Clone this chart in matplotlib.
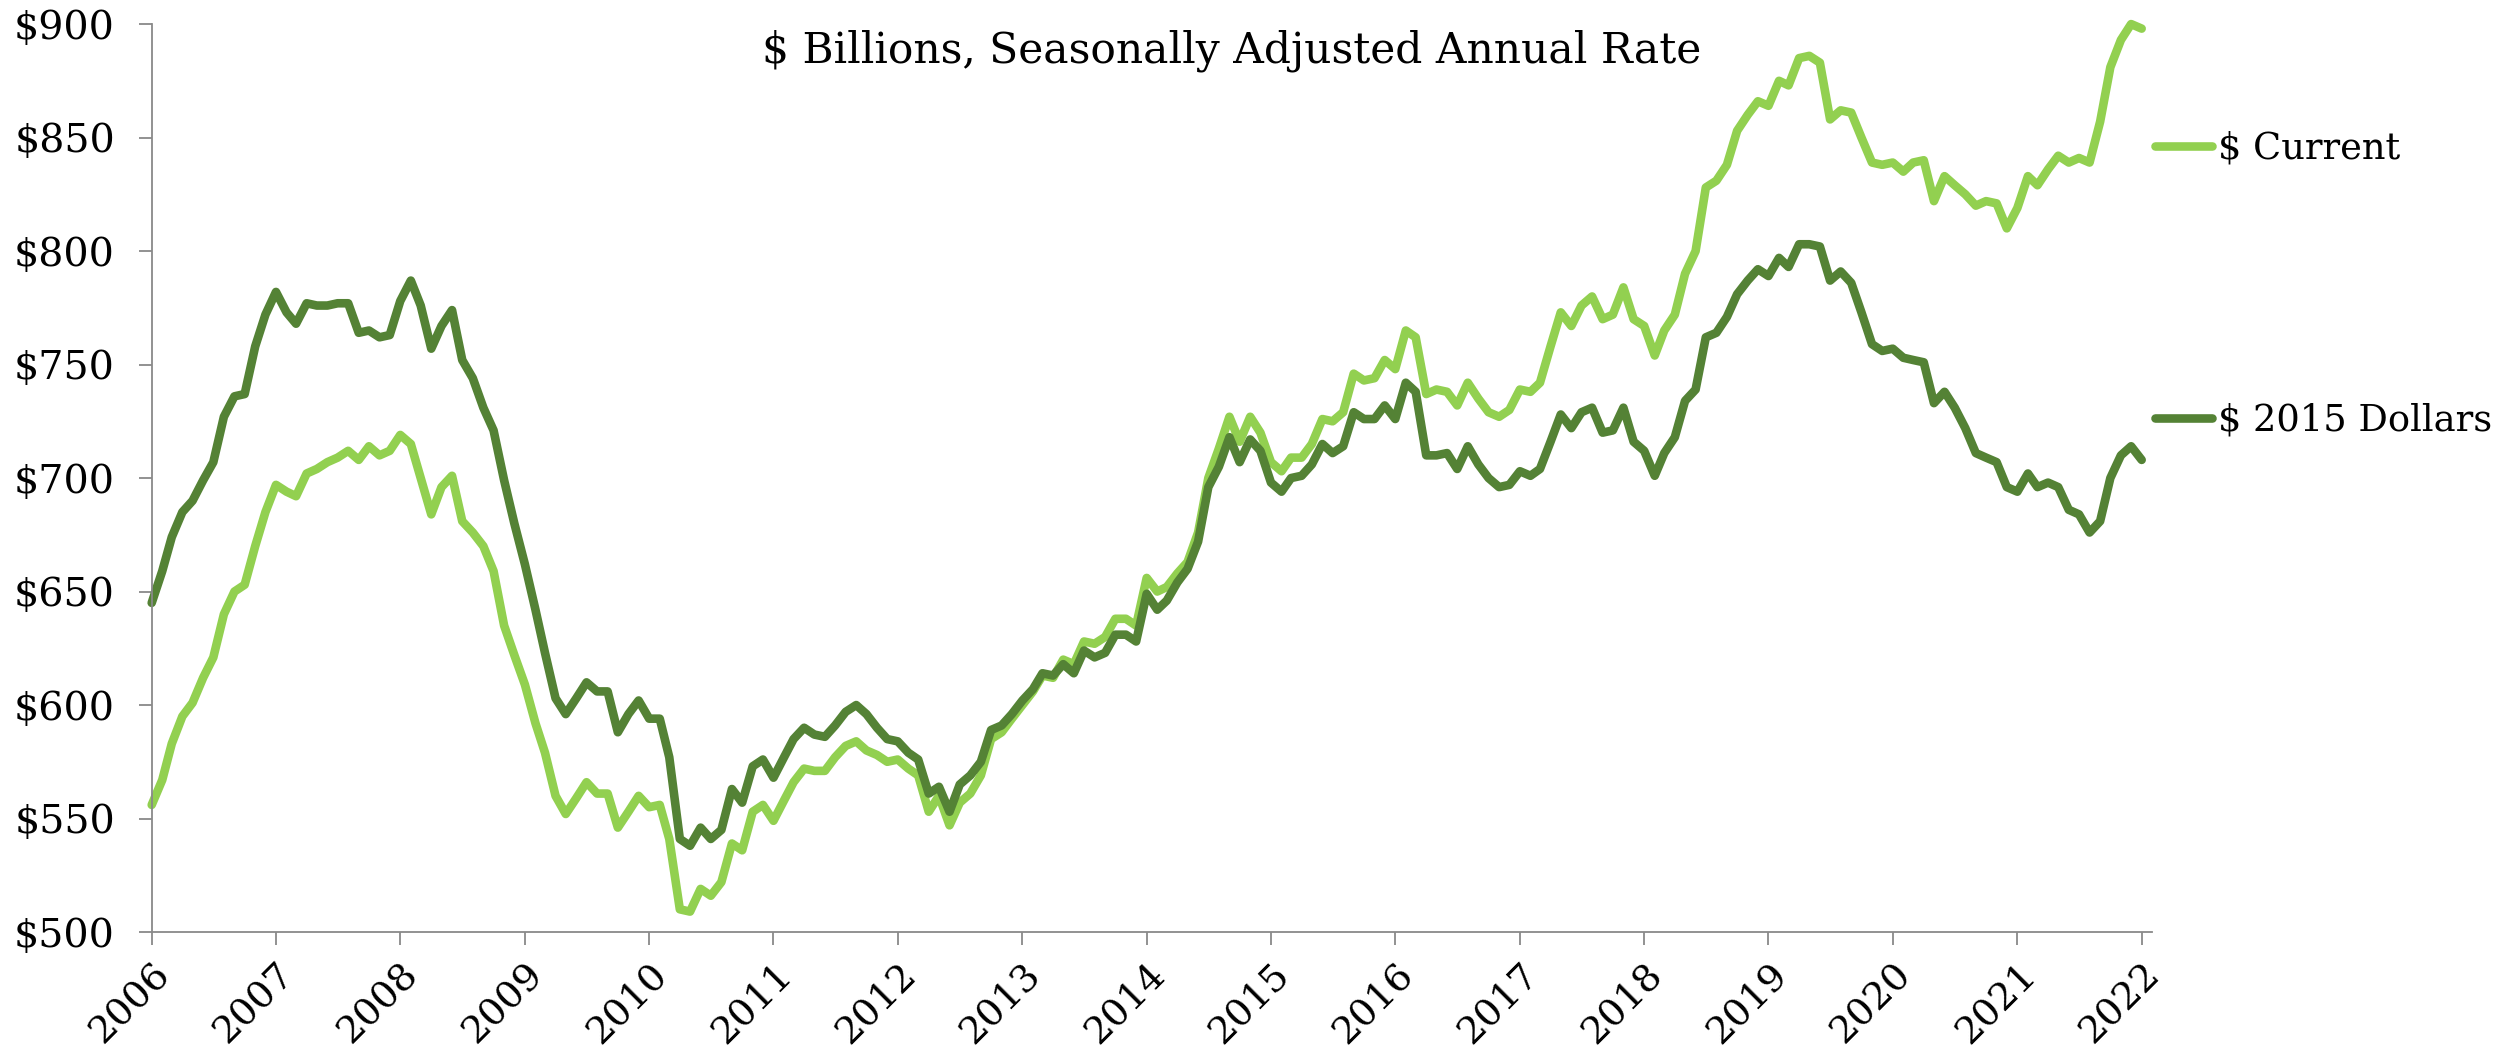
import numpy as np
import pandas as pd
import matplotlib
matplotlib.use("Agg")
import matplotlib.pyplot as plt
import matplotlib.dates as mdates

# monthly series, Jan 2006 .. Jan 2022 ($ billions, SAAR)
current = [
    556, 567, 583, 595, 601, 612, 621, 640, 650, 653, 670, 685,   # 2006
    697, 694, 692, 702, 704, 707, 709, 712, 708, 714, 710, 712,   # 2007
    719, 715, 700, 684, 696, 701, 681, 676, 670, 659, 635, 622,   # 2008
    609, 592, 579, 560, 552, 559, 566, 561, 561, 546, 553, 560,   # 2009
    555, 556, 541, 510, 509, 519, 516, 522, 539, 536, 553, 556,   # 2010
    549, 558, 566, 572, 571, 571, 577, 582, 584, 580, 578, 575,   # 2011
    576, 572, 569, 553, 560, 547, 557, 561, 569, 585, 588, 594,   # 2012
    600, 606, 613, 612, 620, 618, 628, 627, 630, 638, 638, 635,   # 2013
    656, 650, 652, 658, 663, 676, 700, 713, 727, 716, 727, 720,   # 2014
    707, 703, 709, 709, 715, 726, 725, 729, 746, 743, 744, 752,   # 2015
    748, 765, 762, 737, 739, 738, 732, 742, 735, 729, 727, 730,   # 2016
    739, 738, 742, 758, 773, 767, 776, 780, 770, 772, 784, 770,   # 2017
    767, 754, 765, 772, 790, 800, 828, 831, 838, 853, 860, 866,   # 2018
    864, 875, 873, 885, 886, 883, 858, 862, 861, 850, 839, 838,   # 2019
    839, 835, 839, 840, 822, 833, 829, 825, 820, 822, 821, 810,   # 2020
    819, 833, 829, 836, 842, 839, 841, 839, 857, 881, 893, 900,   # 2021
    898,                                                          # 2022
]
real_2015 = [
    645, 659, 674, 685, 690, 699, 707, 727, 736, 737, 758, 772,
    782, 773, 768, 777, 776, 776, 777, 777, 764, 765, 762, 763,
    778, 787, 776, 757, 767, 774, 752, 744, 731, 721, 699, 680,
    662, 642, 623, 603, 596, 603, 610, 606, 606, 588, 596, 602,
    594, 594, 577, 541, 538, 546, 541, 545, 563, 557, 573, 576,
    568, 577, 585, 590, 587, 586, 591, 597, 600, 596, 590, 585,
    584, 579, 576, 561, 564, 553, 565, 569, 575, 589, 591, 596,
    602, 607, 614, 613, 618, 614, 624, 621, 623, 631, 631, 628,
    649, 642, 646, 654, 660, 672, 696, 705, 718, 707, 717, 712,
    698, 694, 700, 701, 706, 715, 711, 714, 729, 726, 726, 732,
    726, 742, 738, 710, 710, 711, 704, 714, 706, 700, 696, 697,
    703, 701, 704, 716, 728, 722, 729, 731, 720, 721, 731, 716,
    712, 701, 711, 718, 734, 739, 762, 764, 771, 781, 787, 792,
    789, 797, 793, 803, 803, 802, 787, 791, 786, 773, 759, 756,
    757, 753, 752, 751, 733, 738, 731, 722, 711, 709, 707, 696,
    694, 702, 696, 698, 696, 686, 684, 676, 681, 700, 710, 714,
    708,
]
months = pd.date_range("2006-01-01", periods=len(current), freq="MS")
y_ticks = [500, 550, 600, 650, 700, 750, 800, 850, 900]

plt.rcParams["font.family"] = ["DejaVu Serif"]

fig = plt.figure(figsize=(24.99, 10.56), dpi=100)
ax = fig.add_axes([0.0607, 0.1174, 0.8004, 0.8598])

lw = 6.2
ax.plot(months, current, color="#92d050", lw=lw, label="$ Current",
        solid_joinstyle="round", solid_capstyle="round", clip_on=False)
ax.plot(months, real_2015, color="#548235", lw=lw, label="$ 2015 Dollars",
        solid_joinstyle="round", solid_capstyle="round", clip_on=False)

ax.set_ylim(500, 900)
ax.set_xlim(pd.Timestamp("2006-01-01"), pd.Timestamp("2022-01-31"))
ax.set_yticks(y_ticks)
ax.set_yticklabels(["$%d" % v for v in y_ticks])
ax.xaxis.set_major_locator(mdates.YearLocator())
ax.xaxis.set_major_formatter(mdates.DateFormatter("%Y"))

for side in ["top", "right"]:
    ax.spines[side].set_visible(False)
for side in ["left", "bottom"]:
    ax.spines[side].set_color("#898989")
    ax.spines[side].set_linewidth(1.3)
ax.tick_params(axis="both", direction="out", length=9.5, width=1.3,
               color="#898989", labelsize=28.5)
ax.tick_params(axis="y", pad=17)
# x labels a bit smaller and closer so the rotated years stay inside the figure
ax.tick_params(axis="x", pad=8, labelsize=27.5)
for lab in ax.get_xticklabels():
    lab.set_rotation(45)
    lab.set_ha("right")
    lab.set_rotation_mode("anchor")

fig.text(0.4927, 0.972, "$ Billions, Seasonally Adjusted Annual Rate",
         ha="center", va="top", fontsize=30.5)

leg = ax.legend(loc="upper left", bbox_to_anchor=(0.8625, 0.876),
                bbox_transform=fig.transFigure, frameon=False, fontsize=26.5,
                handlelength=1.55, handletextpad=0.15, labelspacing=6.4,
                borderpad=0, borderaxespad=0)

fig.savefig("out.png", dpi=100, facecolor="white")
